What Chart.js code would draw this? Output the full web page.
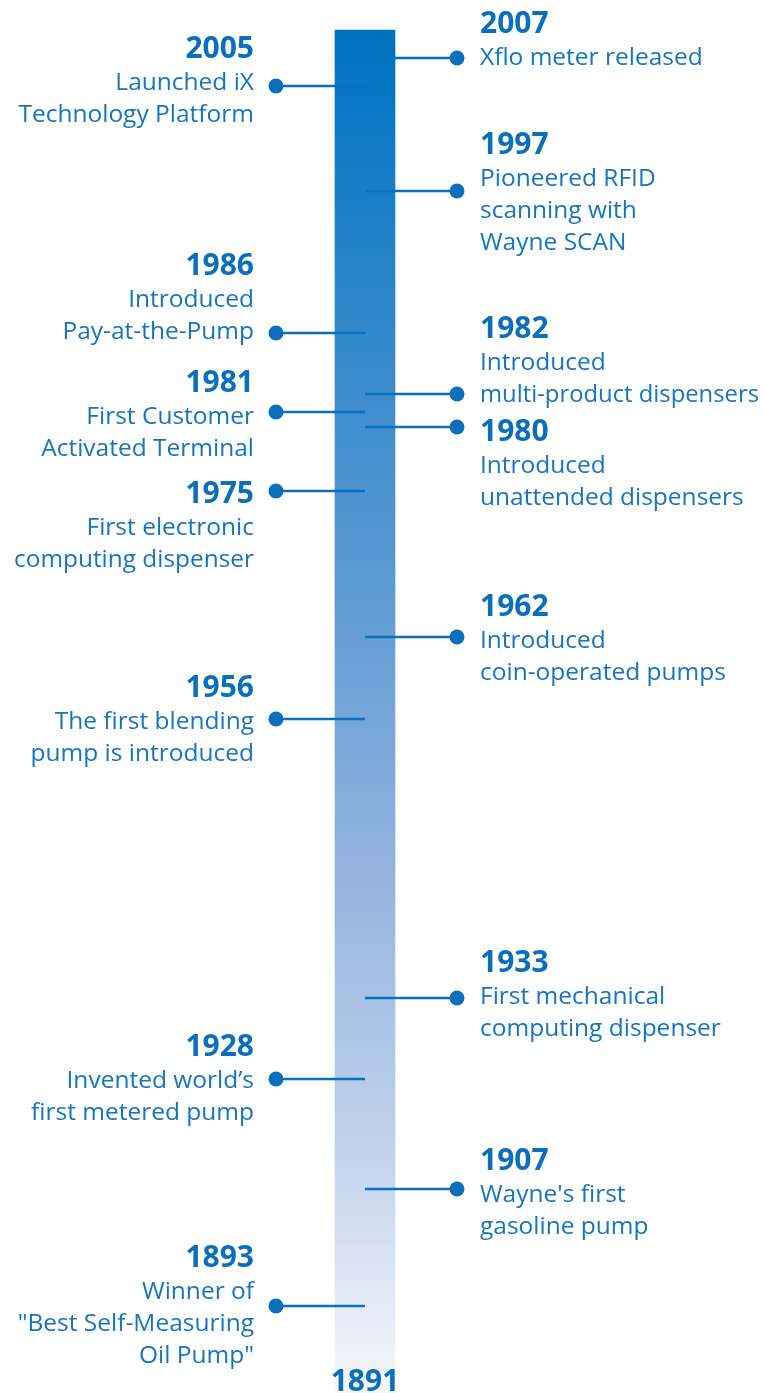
<!DOCTYPE html>
<html><head><meta charset="utf-8">
<script src="https://cdn.jsdelivr.net/npm/chart.js@4.4.0/dist/chart.umd.min.js"></script>
<style>html,body{margin:0;padding:0;background:#fff;overflow:hidden}canvas{display:block}</style>
</head><body>
<canvas id="c" width="763" height="1393"></canvas>
<script>
// ---- data ----
const eventYears = [2007, 2005, 1997, 1986, 1982, 1981, 1980, 1975, 1962, 1956, 1933, 1928, 1907, 1893];
const eventSides = ['right','left','right','left','right','left','right','left','right','left','right','left','right','left'];
const eventTexts = [
  ['Xflo meter released'],
  ['Launched iX', 'Technology Platform'],
  ['Pioneered RFID', 'scanning with', 'Wayne SCAN'],
  ['Introduced', 'Pay-at-the-Pump'],
  ['Introduced', 'multi-product dispensers'],
  ['First Customer', 'Activated Terminal'],
  ['Introduced', 'unattended dispensers'],
  ['First electronic', 'computing dispenser'],
  ['Introduced', 'coin-operated pumps'],
  ['The first blending', 'pump is introduced'],
  ['First mechanical', 'computing dispenser'],
  ['Invented world\u2019s', 'first metered pump'],
  ["Wayne's first", 'gasoline pump'],
  ['Winner of', '"Best Self-Measuring', 'Oil Pump"']
];
const startYear = 1891;
const endYear = 2009;

// ---- custom non-linear timeline scale ----
class TimelineScale extends Chart.LinearScale {
  static id = 'timeline';
  static defaults = {};
  _frac(value) {
    const s = this.options.stops; // descending years
    let i = 0;
    while (i < s.length - 2 && value < s[i + 1][0]) i++;
    const [y0, f0] = s[i], [y1, f1] = s[i + 1];
    return f0 + (value - y0) * (f1 - f0) / (y1 - y0);
  }
  getPixelForValue(value) {
    return this.top + this._frac(value) * (this.bottom - this.top);
  }
  getValueForPixel(pixel) {
    const s = this.options.stops;
    const f = (pixel - this.top) / (this.bottom - this.top);
    let i = 0;
    while (i < s.length - 2 && f > s[i + 1][1]) i++;
    const [y0, f0] = s[i], [y1, f1] = s[i + 1];
    return y0 + (f - f0) * (y1 - y0) / (f1 - f0);
  }
}
Chart.register(TimelineScale);

const H = 1393;
const layout = {
  stops: [[2009,30],[2007,58],[2005,86],[1997,191],[1986,333],[1982,394],[1981,412],[1980,427],[1975,491],[1962,637],[1956,719],[1933,998],[1928,1079],[1907,1189],[1893,1306],[1891,1393]].map(([y,p]) => [y, p / H]),
  dotX: { left: -89, right: 92 },
  yearOffset: [-36, -39, -48, -69, -67, -31, 3, 1, -32, -33, -37, -34, -30, -50]
};

const blue = '#0a70bd';
const lineBlue = '#0b6fbe';

const datasets = [{
  type: 'bar',
  data: [{ x: 0, y: [startYear, endYear] }],
  barThickness: 60,
  borderWidth: 0,
  order: 5,
  backgroundColor: (ctx) => {
    const chart = ctx.chart;
    if (!chart.chartArea) return '#5898d2';
    const ys = chart.scales.y;
    const t = ys.getPixelForValue(endYear), b = ys.getPixelForValue(startYear);
    const g = chart.ctx.createLinearGradient(0, t, 0, b);
    g.addColorStop(0, '#0072bf');
    g.addColorStop(0.06, '#0a78c4');
    g.addColorStop(0.205, '#2e87ca');
    g.addColorStop(0.39, '#5898d2');
    g.addColorStop(0.61, '#92b3de');
    g.addColorStop(0.83, '#c3d4ec');
    g.addColorStop(0.97, '#eef2f9');
    g.addColorStop(1, '#f3f6fb');
    return g;
  }
}];

eventYears.forEach((yr, i) => {
  datasets.push({
    type: 'line',
    data: [{ x: 0, y: yr }, { x: layout.dotX[eventSides[i]], y: yr }],
    borderColor: lineBlue,
    borderWidth: 2.5,
    pointRadius: [0, 7.5],
    pointBackgroundColor: lineBlue,
    pointBorderWidth: 0,
    pointHoverRadius: 0,
    fill: false,
    order: 1
  });
});

const textPlugin = {
  id: 'timelineText',
  afterDraw(chart) {
    const ctx = chart.ctx, xs = chart.scales.x, ys = chart.scales.y;
    ctx.save();
    eventYears.forEach((yr, i) => {
      const side = eventSides[i];
      const dotX = xs.getPixelForValue(layout.dotX[side]);
      const dotY = ys.getPixelForValue(yr);
      const tx = side === 'left' ? dotX - 22 : dotX + 23;
      const maxW = side === 'left' ? tx - 14 : chart.width - tx - 4;
      ctx.textAlign = side === 'left' ? 'right' : 'left';
      ctx.textBaseline = 'alphabetic';
      const yc = dotY + layout.yearOffset[i];
      ctx.fillStyle = blue;
      ctx.font = 'bold 30px "Open Sans"';
      ctx.fillText(String(yr), tx, yc + 10.5);
      ctx.fillStyle = '#1575c1';
      ctx.font = '24.5px "Open Sans"';
      eventTexts[i].forEach((line, j) => {
        ctx.fillText(line, tx, yc + 34 + 32 * j + 8.5, maxW);
      });
    });
    ctx.fillStyle = blue;
    ctx.font = 'bold 30px "Open Sans"';
    ctx.textAlign = 'center';
    ctx.fillText(String(startYear), xs.getPixelForValue(0), 1391);
    ctx.restore();
  }
};

new Chart(document.getElementById('c'), {
  type: 'bar',
  data: { datasets },
  options: {
    responsive: false,
    animation: false,
    devicePixelRatio: 1,
    layout: { padding: 0, autoPadding: false },
    plugins: { legend: { display: false }, tooltip: { enabled: false } },
    events: [],
    scales: {
      x: { type: 'linear', min: -365, max: 398, offset: false, display: false },
      y: { type: 'timeline', min: startYear, max: endYear, offset: false, display: false, stops: layout.stops }
    }
  },
  plugins: [textPlugin]
});
</script>
</body></html>
